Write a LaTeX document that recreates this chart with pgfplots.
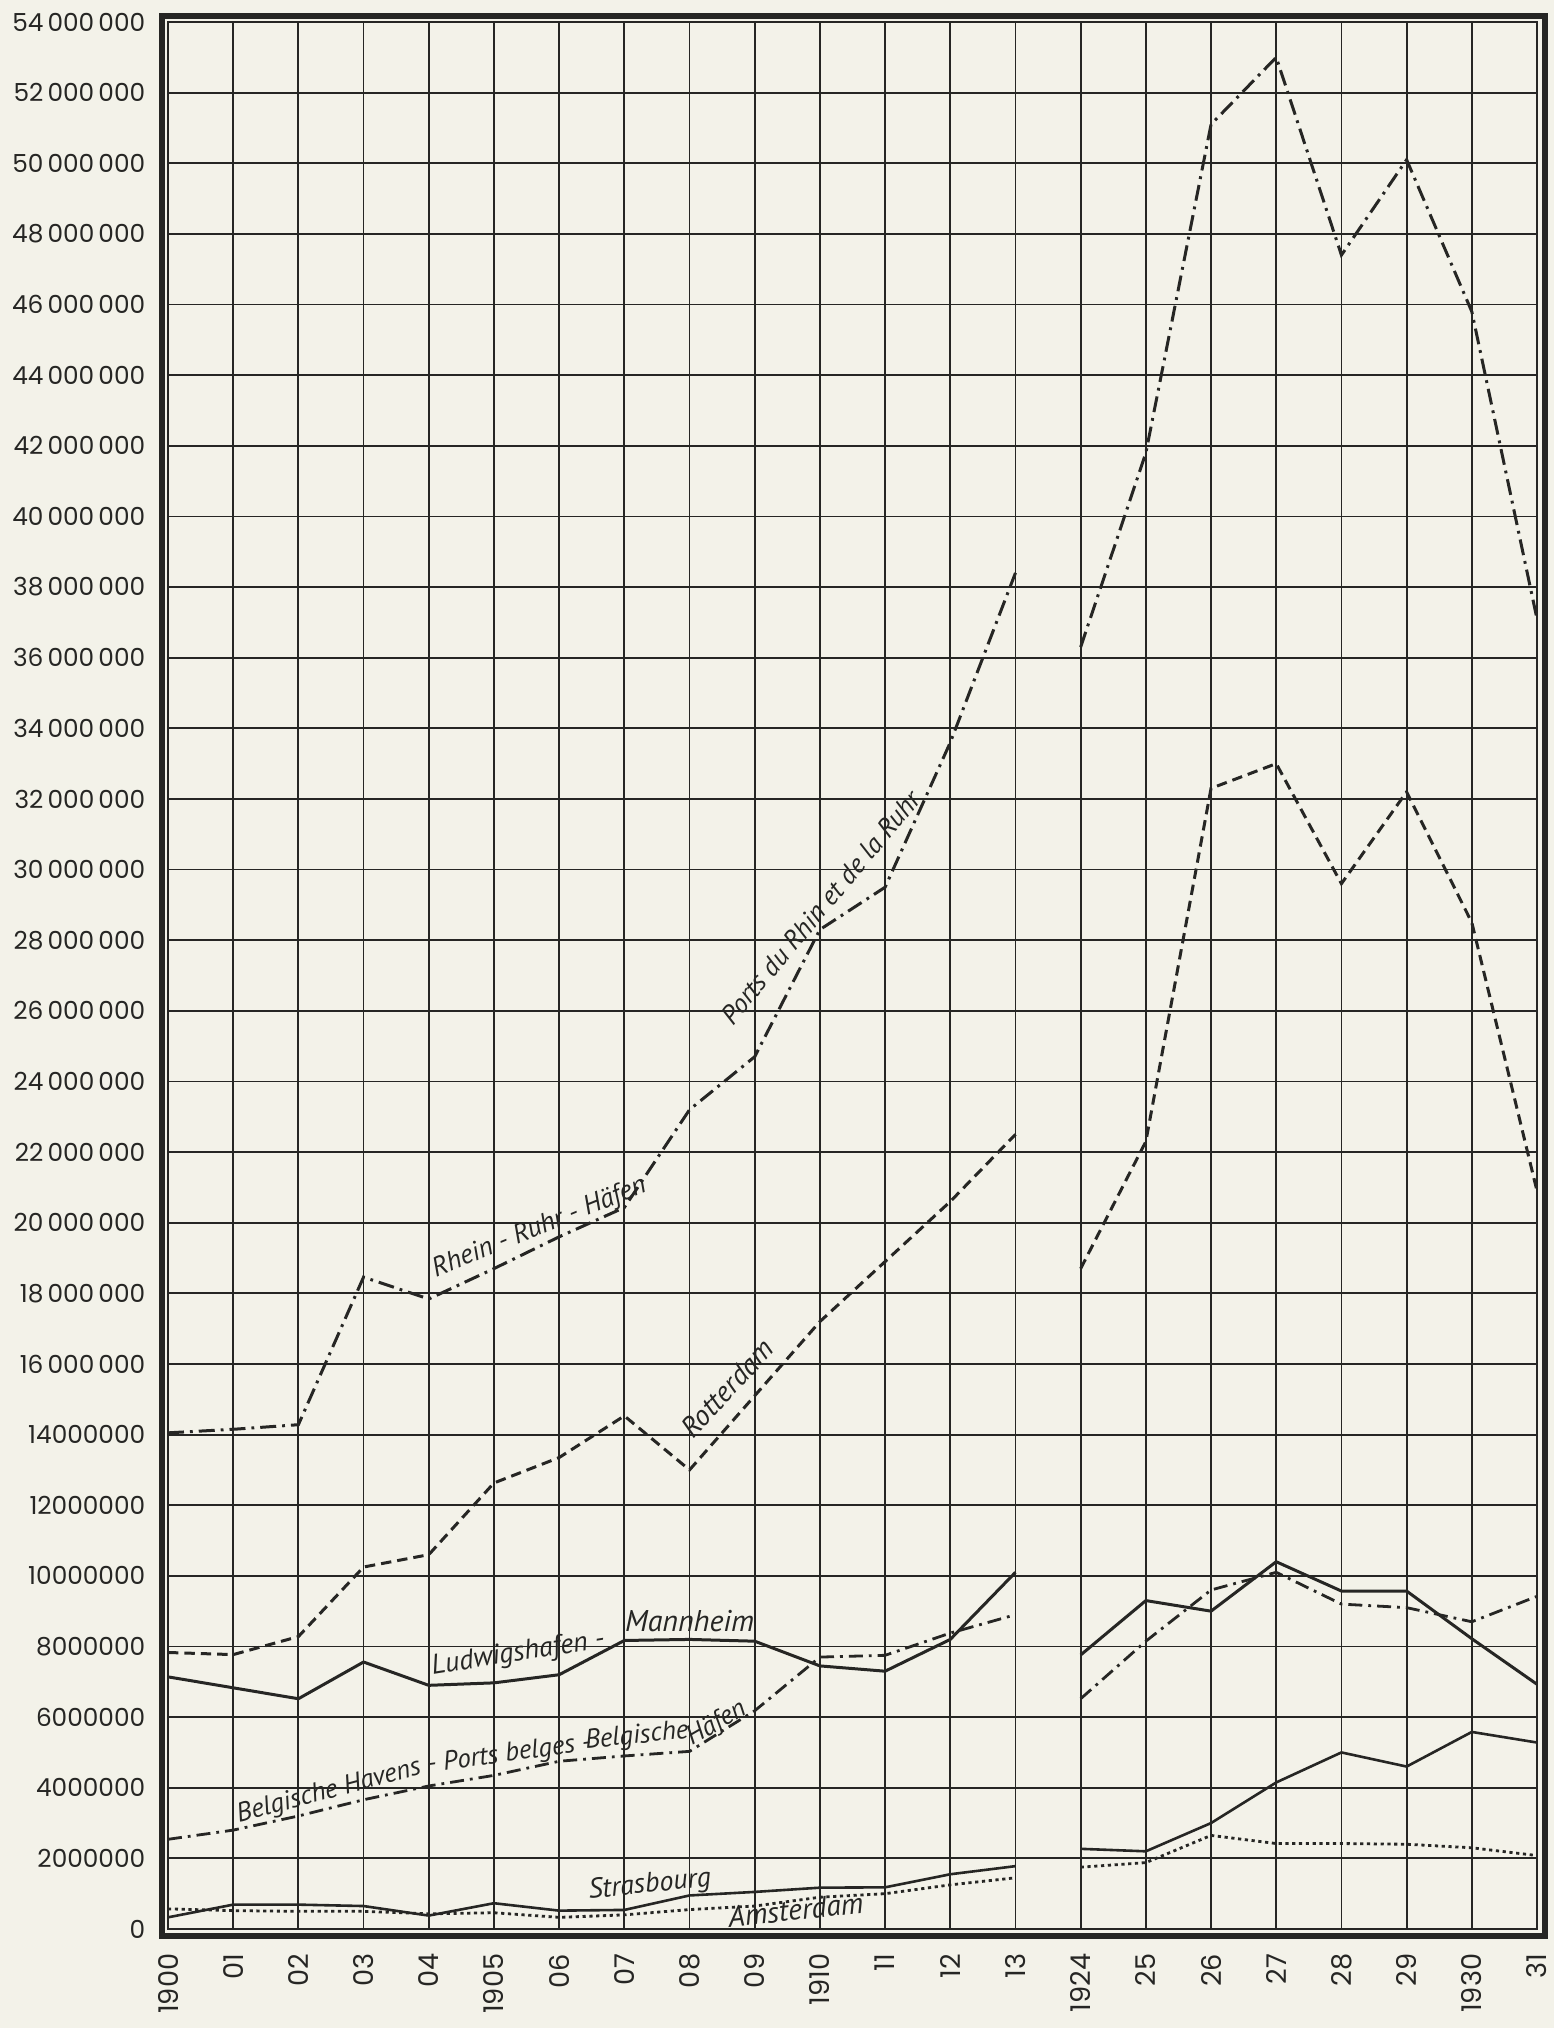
\documentclass[border=0pt]{standalone}
\usepackage{fontspec}
\usepackage{pgfplots}
\pgfplotsset{compat=1.18}
\newfontfamily\tickfont{Poppins}
\newfontfamily\hand{PT Sans}
\definecolor{bg}{RGB}{243,242,233}
\definecolor{ink}{RGB}{38,38,36}
\pgfplotstableread{
x rhine rott mann belg stras amst
0  14.05 7.83 7.14 2.54 0.33 0.57
1  14.15 7.77 6.83 2.80 0.69 0.52
2  14.28 8.28 6.52 3.20 0.69 0.50
3  18.46 10.25 7.56 3.66 0.65 0.50
4  17.84 10.60 6.90 4.05 0.38 0.43
5  18.70 12.63 6.97 4.35 0.73 0.46
6  19.60 13.35 7.20 4.75 0.52 0.33
7  20.43 14.53 8.17 4.90 0.54 0.40
8  23.20 13.00 8.20 5.03 0.95 0.55
9  24.70 15.10 8.15 6.18 1.05 0.65
10 28.30 17.20 7.45 7.70 1.17 0.90
11 29.50 18.90 7.30 7.75 1.18 1.00
12 33.60 20.60 8.20 8.38 1.55 1.25
13 38.40 22.50 10.10 8.90 1.78 1.45
}\prewar
\pgfplotstableread{
x rhine rott mann belg stras amst
14 36.30 18.70 7.76 6.52 2.27 1.75
15 41.80 22.30 9.30 8.15 2.20 1.88
16 51.10 32.30 9.00 9.60 3.00 2.65
17 53.00 33.00 10.40 10.10 4.15 2.42
18 47.40 29.60 9.57 9.20 5.00 2.42
19 50.10 32.20 9.57 9.10 4.60 2.40
20 45.80 28.50 8.22 8.70 5.58 2.30
21 37.10 20.90 6.93 9.42 5.28 2.08
}\postwar
\tikzset{
  rhinestyle/.style={ink, line width=0.75pt, dash pattern=on 4pt off 1.5pt on 0.7pt off 1.5pt},
  rottstyle/.style={ink, line width=0.75pt, dash pattern=on 2.6pt off 1.5pt},
  mannstyle/.style={ink, line width=0.75pt},
  belgstyle/.style={ink, line width=0.7pt, dash pattern=on 3.5pt off 1.5pt on 0.7pt off 1.5pt},
  strasstyle/.style={ink, line width=0.65pt},
  amststyle/.style={ink, line width=0.7pt, dash pattern=on 0.8pt off 0.9pt},
  lab/.style={text=ink, inner sep=0pt, anchor=base west},
  fs/.style={font=\hand\itshape\fontsize{#1}{#1}\selectfont}
}
\begin{document}
\begin{tikzpicture}
\fill[bg] (-42pt,-24.75pt) rectangle (346.5pt,482.25pt);
\begin{axis}[
  at={(0,0)}, anchor=south west,
  scale only axis, width=342.25pt, height=476.75pt,
  xmin=0, xmax=21, ymin=0, ymax=54,
  xtick={0,...,21}, ytick={0,2,...,54},
  xticklabels={1900,01,02,03,04,1905,06,07,08,09,1910,11,12,13,1924,25,26,27,28,29,1930,31},
  yticklabels={0,2000000,4000000,6000000,8000000,10000000,12000000,14000000,
    16\,000\,000,18\,000\,000,20\,000\,000,22\,000\,000,24\,000\,000,26\,000\,000,
    28\,000\,000,30\,000\,000,32\,000\,000,34\,000\,000,36\,000\,000,38\,000\,000,
    40\,000\,000,42\,000\,000,44\,000\,000,46\,000\,000,48\,000\,000,50\,000\,000,
    52\,000\,000,54\,000\,000},
  grid=major,
  major grid style={ink, line width=0.45pt},
  axis line style={ink, line width=0.45pt},
  major tick length=0pt,
  tick style={draw=none},
  xticklabel style={rotate=90, anchor=east, inner sep=0pt, text=ink,
    font=\tickfont\fontsize{6.8}{7}\selectfont},
  yticklabel style={anchor=east, inner sep=0pt, text=ink,
    font=\tickfont\fontsize{6.2}{7}\selectfont},
  xticklabel shift=6pt,
  yticklabel shift=5.5pt,
  clip=false,
]
\draw[ink, line width=1.5pt] ([xshift=-1.5pt,yshift=-1.7pt]rel axis cs:0,0) rectangle ([xshift=1.9pt,yshift=1.4pt]rel axis cs:1,1);
\addplot[rhinestyle] table[x=x,y=rhine] {\prewar};
\addplot[rhinestyle] table[x=x,y=rhine] {\postwar};
\addplot[rottstyle] table[x=x,y=rott] {\prewar};
\addplot[rottstyle] table[x=x,y=rott] {\postwar};
\addplot[mannstyle] table[x=x,y=mann] {\prewar};
\addplot[mannstyle] table[x=x,y=mann] {\postwar};
\addplot[belgstyle] table[x=x,y=belg] {\prewar};
\addplot[belgstyle] table[x=x,y=belg] {\postwar};
\addplot[strasstyle] table[x=x,y=stras] {\prewar};
\addplot[strasstyle] table[x=x,y=stras] {\postwar};
\addplot[amststyle] table[x=x,y=amst] {\prewar};
\addplot[amststyle] table[x=x,y=amst] {\postwar};
\node[lab, fs=6.8, rotate=22] at (axis cs:4.1,18.45) {Rhein - Ruhr - Häfen};
\node[lab, fs=6.7, rotate=50] at (axis cs:8.66,25.55) {Ports du Rhin et de la Ruhr};
\node[lab, fs=7.2, rotate=47] at (axis cs:8.05,13.85) {Rotterdam};
\node[lab, fs=7.0, rotate=9] at (axis cs:4.05,7.2) {Ludwigshafen -};
\node[lab, fs=7.5] at (axis cs:7.0,8.42) {Mannheim};
\node[lab, fs=6.7, rotate=15] at (axis cs:1.08,3.0) {Belgische Havens};
\node[lab, fs=6.7, rotate=8] at (axis cs:3.98,4.42) {- Ports belges -};
\node[lab, fs=6.7, rotate=6] at (axis cs:6.4,5.1) {Belgische};
\node[lab, fs=6.7, rotate=30] at (axis cs:8.03,5.18) {Häfen};
\node[lab, fs=7.0, rotate=6] at (axis cs:6.45,0.86) {Strasbourg};
\node[lab, fs=7.4, rotate=6] at (axis cs:8.6,0.05) {Amsterdam};
\end{axis}
\pgfresetboundingbox
\path[use as bounding box] (-42pt,-24.75pt) rectangle (346.5pt,482.25pt);
\end{tikzpicture}
\end{document}
